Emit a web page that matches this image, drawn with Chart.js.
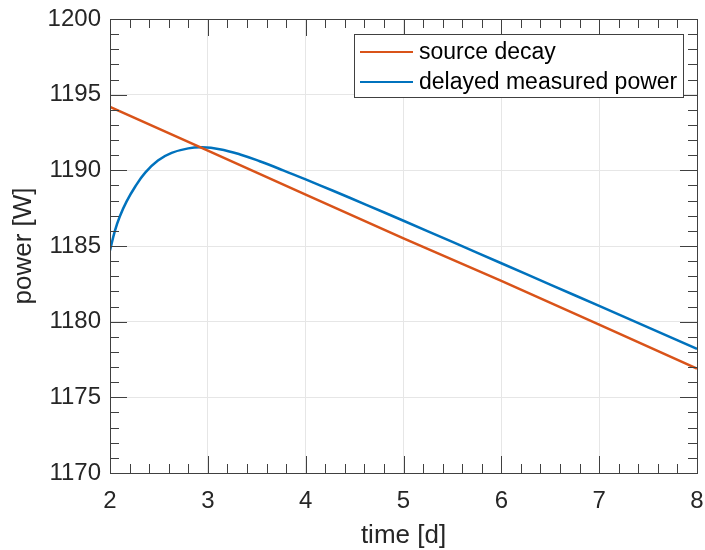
<!DOCTYPE html>
<html>
<head>
<meta charset="utf-8">
<script src="https://cdn.jsdelivr.net/npm/chart.js@4"></script>
<style>
  html, body { margin: 0; padding: 0; background: #fff; }
  #wrap { width: 705px; height: 550px; }
</style>
</head>
<body>
<div id="wrap"><canvas id="powerChart" width="705" height="550"></canvas></div>
<script>
// source decay, read at whole days
const sourceDays = [2, 3, 4, 5, 6, 7, 8];
const sourcePower = [1194.2, 1191.3, 1188.4, 1185.5, 1182.7, 1179.8, 1176.9];

// delayed measured power, denser sampling where it bends
const measuredDays = [2.0, 2.05, 2.1, 2.17, 2.26, 2.36, 2.49, 2.63, 2.8, 2.94, 3.12, 3.33, 3.53, 3.77, 4, 4.28, 4.62, 5, 5.5, 6, 6.5, 7, 7.5, 8];
const measuredPower = [1184.7, 1186.0, 1186.95, 1187.95, 1188.95, 1189.85, 1190.65, 1191.15, 1191.45, 1191.52, 1191.4, 1191.05, 1190.6, 1190.0, 1189.4, 1188.65, 1187.72, 1186.67, 1185.27, 1183.86, 1182.45, 1181.04, 1179.62, 1178.2];

const seriesLabels = ['source decay', 'delayed measured power'];
const seriesColors = ['#D95319', '#0072BD'];

const xTicks = [2, 3, 4, 5, 6, 7, 8];
const yTicks = [1170, 1175, 1180, 1185, 1190, 1195, 1200];

const textColor = '#262626';
const axisColor = '#404040';
const fontFamily = 'Arial, "Liberation Sans", Helvetica, sans-serif';

const toPoints = (xs, ys) => xs.map((x, i) => ({ x: x, y: ys[i] }));

const noPad = s => { s.paddingLeft = 0; s.paddingRight = 0; s.paddingTop = 0; s.paddingBottom = 0; };

// inside ticks on all four sides, closed box, and a MATLAB-like legend
const boxPlugin = {
    id: 'matlabBox',
    afterDatasetsDraw(chart) {
        const { ctx, chartArea: a, scales } = chart;
        const xs = scales.x, ys = scales.y;
        ctx.save();
        ctx.strokeStyle = axisColor;
        ctx.lineWidth = 1;
        ctx.beginPath();
        for (let i = 0; i <= 30; i++) {
            const v = 2 + i * 0.2;
            const px = Math.round(xs.getPixelForValue(v)) + 0.5;
            const len = (i % 5 === 0) ? 17 : 9;
            ctx.moveTo(px, a.bottom); ctx.lineTo(px, a.bottom - len);
            ctx.moveTo(px, a.top); ctx.lineTo(px, a.top + len);
        }
        for (let v = 1170; v <= 1200; v++) {
            const py = Math.round(ys.getPixelForValue(v)) + 0.5;
            const len = (v % 5 === 0) ? 17 : 9;
            ctx.moveTo(a.left, py); ctx.lineTo(a.left + len, py);
            ctx.moveTo(a.right, py); ctx.lineTo(a.right - len, py);
        }
        ctx.stroke();
        ctx.strokeRect(Math.round(a.left) + 0.5, Math.round(a.top) + 0.5,
            Math.round(a.right - a.left), Math.round(a.bottom - a.top));

        // legend
        const lx = 354, ly = 34, lw = 329, lh = 63;
        ctx.fillStyle = '#fff';
        ctx.fillRect(lx, ly, lw, lh);
        ctx.strokeStyle = axisColor;
        ctx.strokeRect(lx + 0.5, ly + 0.5, lw, lh);
        ctx.font = '23px ' + fontFamily;
        ctx.textBaseline = 'middle';
        chart.data.datasets.forEach((ds, i) => {
            const y = ly + 18 + i * 30;
            ctx.strokeStyle = ds.borderColor;
            ctx.lineWidth = 2;
            ctx.beginPath();
            ctx.moveTo(lx + 6, y); ctx.lineTo(lx + 59, y);
            ctx.stroke();
            ctx.fillStyle = '#000';
            ctx.fillText(ds.label, lx + 65, y + 1);
        });
        ctx.restore();
    }
};

new Chart(document.getElementById('powerChart'), {
    type: 'scatter',
    data: {
        datasets: [
            {
                label: seriesLabels[0],
                data: toPoints(sourceDays, sourcePower),
                borderColor: seriesColors[0],
                backgroundColor: seriesColors[0],
                showLine: true,
                borderWidth: 2.5,
                pointRadius: 0,
                tension: 0
            },
            {
                label: seriesLabels[1],
                data: toPoints(measuredDays, measuredPower),
                borderColor: seriesColors[1],
                backgroundColor: seriesColors[1],
                showLine: true,
                borderWidth: 2.5,
                pointRadius: 0,
                tension: 0.4
            }
        ]
    },
    options: {
        responsive: false,
        animation: false,
        devicePixelRatio: 1,
        layout: { padding: { top: 19, right: 8, left: 0, bottom: 0 } },
        plugins: {
            legend: { display: false },
            tooltip: { enabled: false }
        },
        scales: {
            x: {
                type: 'linear',
                min: 2, max: 8,
                afterBuildTicks: s => { s.ticks = xTicks.map(v => ({ value: v })); },
                afterFit: s => { s.height = 77; noPad(s); },
                ticks: { color: textColor, font: { family: fontFamily, size: 24 }, padding: 14, maxRotation: 0, callback: v => String(v) },
                grid: { color: '#e6e6e6', drawTicks: false },
                border: { display: false },
                title: { display: true, text: 'time [d]', color: textColor, font: { family: fontFamily, size: 26 }, padding: { top: 0, bottom: -1 } }
            },
            y: {
                type: 'linear',
                min: 1170, max: 1200,
                afterBuildTicks: s => { s.ticks = yTicks.map(v => ({ value: v })); },
                afterFit: s => { s.width = 110; noPad(s); },
                ticks: { color: textColor, font: { family: fontFamily, size: 24 }, padding: 9, callback: v => String(v) },
                grid: { color: '#e6e6e6', drawTicks: false },
                border: { display: false },
                title: { display: true, text: 'power [W]', color: textColor, font: { family: fontFamily, size: 26 }, padding: { top: 8, bottom: 0 } }
            }
        }
    },
    plugins: [boxPlugin]
});
</script>
</body>
</html>
